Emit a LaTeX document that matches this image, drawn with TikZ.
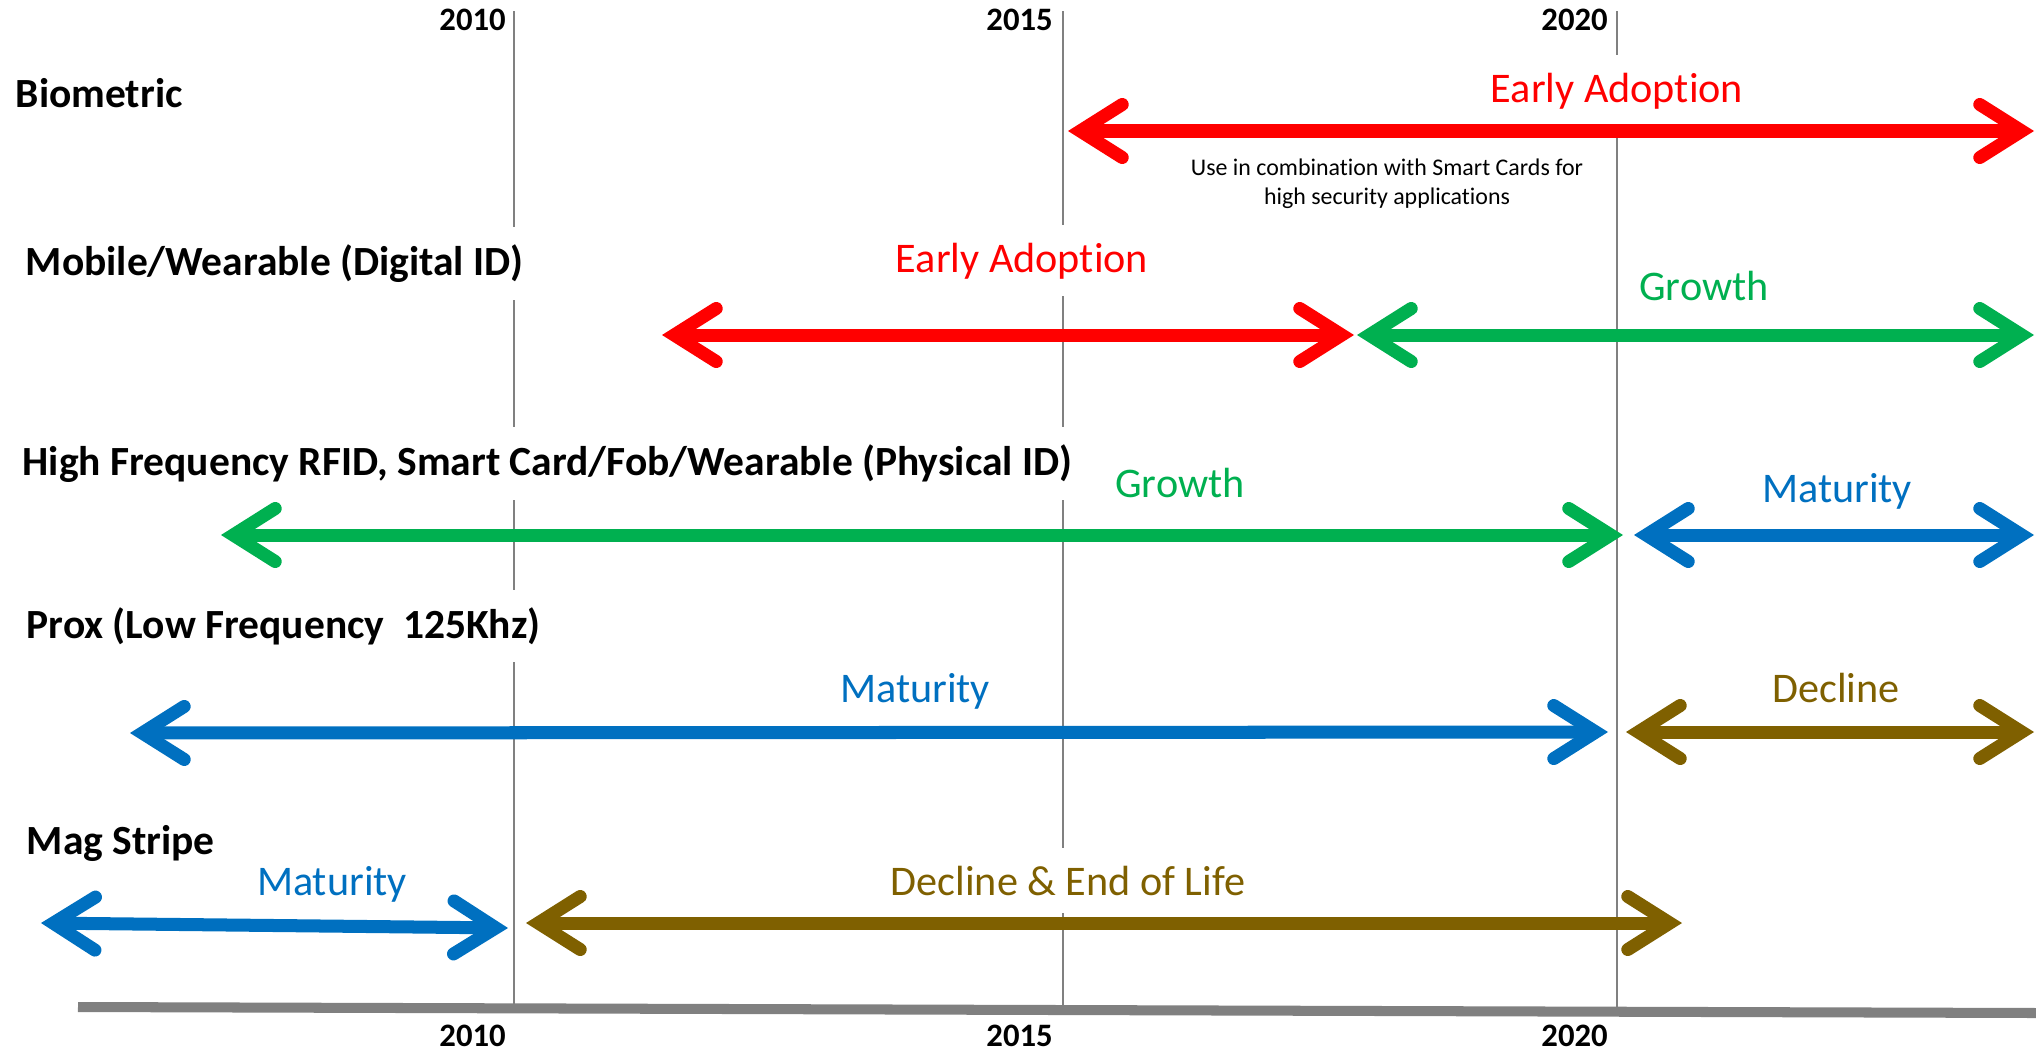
\documentclass[tikz,border=0pt]{standalone}
\usepackage{fontspec}
\setmainfont{Carlito}[Ligatures=NoCommon]
\usetikzlibrary{arrows.meta}

\definecolor{earlyred}{RGB}{255,0,0}
\definecolor{growthgreen}{RGB}{0,176,80}
\definecolor{maturityblue}{RGB}{0,112,192}
\definecolor{declinebrown}{RGB}{127,96,0}
\definecolor{gridgray}{RGB}{128,128,128}

\tikzset{
  chevron/.tip={Straight Barb[length=0.42cm, width=0.53cm, line cap=round, line join=miter]},
  phasearrow/.style={line width=3.7pt, chevron-chevron},
  gridline/.style={draw=gridgray, line width=0.5pt},
  rowlabel/.style={font=\bfseries\fontsize{11.8}{13}\selectfont, fill=white, anchor=base west, inner xsep=2pt, inner ysep=5pt},
  phaselabel/.style={font=\fontsize{12}{14}\selectfont, fill=white, anchor=base, inner xsep=3pt, inner ysep=5pt},
  yearlabel/.style={font=\bfseries\fontsize{9.3}{11}\selectfont, anchor=base east, inner sep=1pt},
  notelabel/.style={font=\fontsize{6.8}{8.25}\selectfont, align=center, inner sep=0pt}
}

\begin{document}
\begin{tikzpicture}[x=0.01cm,y=-0.01cm]
\useasboundingbox (0,0) rectangle (2036,1051);

% year grid
\draw[gridline] (514,11) -- (514,1007);
\draw[gridline] (1063,11) -- (1063,1008);
\draw[gridline] (1617,11) -- (1617,1010);
\node[yearlabel] (top2010) at (510,30) {2010};
\node[yearlabel] (top2015) at (1057,30) {2015};
\node[yearlabel] (top2020) at (1612,30) {2020};
\node[yearlabel] (bot2010) at (510,1046) {2010};
\node[yearlabel] (bot2015) at (1057,1046) {2015};
\node[yearlabel] (bot2020) at (1612,1046) {2020};

% time axis
\coordinate (axisL) at (78,1007);
\coordinate (axisR) at (2036,1013);
\draw[gridgray, line width=2.85pt] (axisL) -- (axisR);

% technologies
\node[rowlabel] (biometric) at (8,107) {Biometric};
\node[rowlabel] (mobile) at (18,275) {Mobile/Wearable (Digital ID)};
\node[rowlabel] (hfrfid) at (15,475) {High Frequency RFID, Smart Card/Fob/Wearable (Physical ID)};
\node[rowlabel] (prox) at (19,638) {Prox (Low Frequency\ \ 125Khz)};
\node[rowlabel] (magstripe) at (19,854) {Mag Stripe};

% phases
\node[phaselabel, text=earlyred] (bioEarly) at (1617,102) {Early Adoption};
\node[notelabel] (bioNote) at (1387,184) {Use in combination with Smart Cards for\\high security applications};
\node[phaselabel, text=earlyred] (mobEarly) at (1022,272) {Early Adoption};
\node[phaselabel, text=growthgreen] (mobGrowth) at (1704,300) {Growth};
\node[phaselabel, text=growthgreen] (hfGrowth) at (1180,497) {Growth};
\node[phaselabel, text=maturityblue] (hfMature) at (1837,502) {Maturity};
\node[phaselabel, text=maturityblue] (proxMature) at (915,702) {Maturity};
\node[phaselabel, text=declinebrown] (proxDecline) at (1836,702) {Decline};
\node[phaselabel, text=maturityblue] (magMature) at (332,895) {Maturity};
\node[phaselabel, text=declinebrown] (magDecline) at (1068,895) {Decline \& End of Life};

% arrows
\coordinate (bioA) at (1068,131);
\coordinate (bioB) at (2034,131);
\coordinate (mobA) at (662,335);
\coordinate (mobB) at (1354,335);
\coordinate (mobC) at (1357,335);
\coordinate (mobD) at (2034,335);
\coordinate (hfA) at (221,535);
\coordinate (hfB) at (1623,535);
\coordinate (hfC) at (1634,535);
\coordinate (hfD) at (2034,535);
\coordinate (proxA) at (130,733);
\coordinate (proxB) at (1608,732);
\coordinate (proxC) at (1626,732);
\coordinate (proxD) at (2034,732);
\coordinate (magA) at (41,923);
\coordinate (magB) at (508,928);
\coordinate (magC) at (526,923);
\coordinate (magD) at (1682,923);
\draw[phasearrow, earlyred] (bioA) -- (bioB);
\draw[phasearrow, earlyred] (mobA) -- (mobB);
\draw[phasearrow, growthgreen] (mobC) -- (mobD);
\draw[phasearrow, growthgreen] (hfA) -- (hfB);
\draw[phasearrow, maturityblue] (hfC) -- (hfD);
\draw[phasearrow, maturityblue] (proxA) -- (proxB);
\draw[phasearrow, declinebrown] (proxC) -- (proxD);
\draw[phasearrow, maturityblue] (magA) -- (magB);
\draw[phasearrow, declinebrown] (magC) -- (magD);

\end{tikzpicture}
\end{document}
